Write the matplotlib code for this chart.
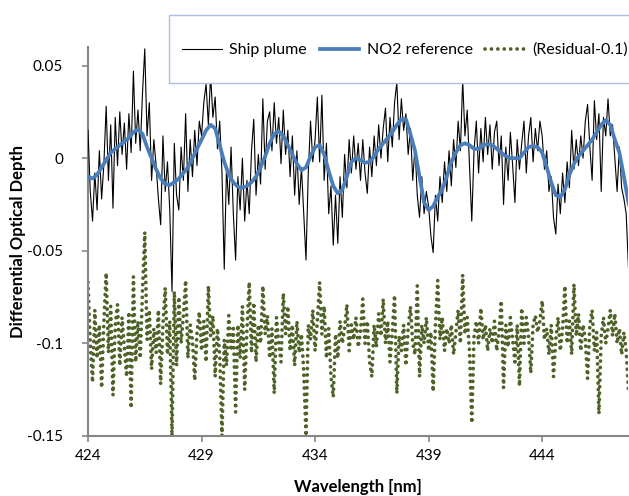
import numpy as np
import matplotlib
matplotlib.use('Agg')
import matplotlib.pyplot as plt
from matplotlib.patches import Rectangle

plt.rcParams['font.family'] = ['Lato', 'DejaVu Sans']
plt.rcParams['axes.unicode_minus'] = False

# Wavelength grids [nm]
wl_fine = np.round(np.arange(424.0, 447.85, 0.1), 2)    # measured spectra
wl_ref = np.round(np.arange(424.0, 448.05, 0.2), 2)     # smooth NO2 cross section

# Ship plume differential optical depth
plume = [
    0.015, -0.018, -0.034, -0.008, -0.028, 0.004, -0.022, -0.003, 0.028, -0.012,
    0.018, -0.027, 0.022, -0.004, 0.025, 0.002, 0.019, -0.006, 0.024, 0.003,
    0.047, 0.008, 0.026, 0.004, 0.035, 0.059, 0.012, 0.030, -0.012, 0.010,
    -0.004, -0.022, -0.036, 0.012, -0.018, -0.002, -0.028, -0.072, 0.008, -0.020,
    -0.028, 0.006, -0.012, 0.024, -0.018, 0.010, -0.010, 0.015, -0.004, 0.020,
    0.012, 0.030, 0.040, 0.018, 0.045, 0.022, 0.033, 0.005, 0.020, -0.008,
    -0.060, -0.005, -0.025, 0.006, -0.030, -0.055, -0.010, -0.028, 0.000, -0.034,
    -0.012, -0.030, 0.004, 0.021, -0.020, 0.002, -0.014, 0.032, -0.006, 0.020,
    0.025, 0.004, 0.030, 0.008, 0.022, -0.003, 0.026, 0.002, 0.015, -0.010,
    0.012, -0.020, 0.004, -0.025, -0.005, -0.030, -0.055, -0.008, 0.020, -0.002,
    0.010, 0.033, -0.002, 0.034, -0.012, 0.008, -0.030, -0.015, -0.047, -0.020,
    -0.046, -0.010, -0.032, 0.002, -0.016, 0.010, -0.008, 0.012, -0.006, 0.008,
    -0.012, 0.010, -0.008, -0.019, 0.006, -0.010, 0.012, -0.004, 0.018, 0.000,
    0.016, 0.027, -0.002, 0.022, 0.006, 0.030, 0.041, 0.010, 0.032, 0.015,
    0.024, 0.002, 0.016, -0.012, 0.006, -0.020, -0.032, -0.010, -0.030, -0.018,
    -0.026, -0.042, -0.051, -0.020, -0.034, -0.010, -0.024, -0.002, -0.018, 0.004,
    -0.015, 0.010, -0.005, 0.020, 0.004, 0.042, 0.012, 0.026, -0.004, -0.034,
    0.004, 0.020, -0.008, 0.016, -0.002, 0.022, 0.002, 0.018, -0.006, 0.014,
    0.020, -0.004, 0.012, -0.025, 0.006, -0.012, 0.014, -0.004, -0.024, 0.010,
    -0.006, 0.008, 0.020, -0.008, 0.012, 0.022, -0.002, 0.016, 0.004, 0.020,
    0.012, -0.006, 0.004, -0.018, -0.010, -0.032, -0.041, -0.014, -0.030, -0.008,
    -0.024, -0.002, -0.016, 0.015, -0.006, 0.010, -0.004, 0.012, 0.000, 0.020,
    0.029, 0.006, -0.012, 0.031, 0.010, 0.024, -0.018, 0.022, 0.012, 0.032,
    0.012, 0.018, 0.000, -0.018, 0.006, -0.016, -0.022, -0.030, -0.059,
]

# NO2 reference fit
no2_ref = [
    -0.010, -0.011, -0.009, -0.005, -0.001, 0.003, 0.005, 0.007, 0.009, 0.011,
    0.014, 0.0156, 0.013, 0.006, 0.000, -0.006, -0.011, -0.014, -0.0145, -0.013,
    -0.011, -0.008, -0.005, 0.000, 0.005, 0.010, 0.015, 0.018, 0.016, 0.007,
    -0.002, -0.009, -0.013, -0.0155, -0.016, -0.015, -0.013, -0.010, -0.005, 0.001,
    0.008, 0.013, 0.0145, 0.012, 0.007, 0.002, -0.003, -0.0065, -0.005, 0.001,
    0.006, 0.007, 0.002, -0.007, -0.015, -0.019, -0.017, -0.010, -0.002, 0.000,
    -0.001, -0.0025, -0.002, 0.001, 0.005, 0.008, 0.011, 0.014, 0.018, 0.021,
    0.021, 0.013, 0.004, -0.010, -0.024, -0.028, -0.026, -0.021, -0.017, -0.010,
    -0.002, 0.003, 0.007, 0.008, 0.007, 0.005, 0.005, 0.007, 0.0075, 0.007,
    0.005, 0.003, 0.001, 0.000, 0.000, 0.000, 0.003, 0.006, 0.0065, 0.006,
    0.003, -0.005, -0.013, -0.020, -0.021, -0.017, -0.009, -0.003, 0.001, 0.004,
    0.007, 0.010, 0.014, 0.018, 0.0205, 0.018, 0.010, 0.003, -0.010, -0.024,
    -0.033,
]

# Fit residual shifted by -0.1
residual = [
    -0.067, -0.100, -0.121, -0.082, -0.108, -0.090, -0.124, -0.088, -0.062, -0.105,
    -0.080, -0.128, -0.090, -0.079, -0.112, -0.086, -0.102, -0.118, -0.083, -0.135,
    -0.064, -0.110, -0.088, -0.108, -0.072, -0.040, -0.098, -0.082, -0.114, -0.092,
    -0.105, -0.082, -0.122, -0.090, -0.070, -0.106, -0.088, -0.150, -0.072, -0.112,
    -0.075, -0.100, -0.085, -0.066, -0.108, -0.090, -0.098, -0.120, -0.094, -0.083,
    -0.104, -0.088, -0.110, -0.069, -0.096, -0.085, -0.118, -0.092, -0.106, -0.150,
    -0.098, -0.112, -0.085, -0.104, -0.092, -0.137, -0.090, -0.108, -0.080, -0.125,
    -0.092, -0.067, -0.105, -0.078, -0.110, -0.090, -0.100, -0.069, -0.095, -0.085,
    -0.108, -0.092, -0.127, -0.086, -0.100, -0.110, -0.073, -0.095, -0.080, -0.104,
    -0.090, -0.112, -0.088, -0.105, -0.095, -0.115, -0.150, -0.090, -0.098, -0.082,
    -0.104, -0.088, -0.067, -0.095, -0.080, -0.108, -0.092, -0.118, -0.129, -0.095,
    -0.108, -0.088, -0.100, -0.092, -0.079, -0.104, -0.090, -0.098, -0.086, -0.102,
    -0.094, -0.076, -0.100, -0.088, -0.110, -0.118, -0.090, -0.102, -0.084, -0.096,
    -0.076, -0.100, -0.088, -0.110, -0.094, -0.074, -0.127, -0.096, -0.104, -0.090,
    -0.112, -0.092, -0.080, -0.100, -0.106, -0.069, -0.118, -0.090, -0.100, -0.086,
    -0.104, -0.094, -0.126, -0.090, -0.066, -0.098, -0.086, -0.104, -0.092, -0.100,
    -0.090, -0.106, -0.094, -0.082, -0.100, -0.063, -0.095, -0.086, -0.104, -0.143,
    -0.096, -0.088, -0.100, -0.081, -0.098, -0.090, -0.104, -0.092, -0.100, -0.088,
    -0.104, -0.094, -0.077, -0.124, -0.090, -0.102, -0.086, -0.098, -0.110, -0.090,
    -0.123, -0.081, -0.100, -0.086, -0.096, -0.116, -0.090, -0.085, -0.094, -0.088,
    -0.077, -0.098, -0.092, -0.106, -0.090, -0.118, -0.098, -0.086, -0.104, -0.092,
    -0.069, -0.100, -0.088, -0.106, -0.068, -0.096, -0.084, -0.104, -0.090, -0.098,
    -0.119, -0.090, -0.082, -0.104, -0.094, -0.138, -0.096, -0.086, -0.100, -0.092,
    -0.082, -0.096, -0.084, -0.100, -0.092, -0.106, -0.094, -0.104, -0.125,
]

x_ticks = [424, 429, 434, 439, 444]
y_ticks = [0.05, 0, -0.05, -0.1, -0.15]
y_tick_labels = ['0.05', '0', '-0.05', '-0.1', '-0.15']

fig = plt.figure(figsize=(6.29, 4.96), dpi=100)
ax = fig.add_axes([88/629, 1 - 436/496, 540/629, 389/496])

ax.plot(wl_fine, residual, color='#4F6228', lw=2.7, ls=(0, (0.01, 1.7)),
        dash_capstyle='round', label='(Residual-0.1)', zorder=2)
ax.plot(wl_fine, plume, color='black', lw=0.8, label='Ship plume', zorder=3)
ax.plot(wl_ref, no2_ref, color='#4A7EBB', lw=2.7, label='NO2 reference', zorder=4)

ax.set_xlim(424, 447.78)
ax.set_ylim(-0.15, 0.06)
ax.set_xticks(x_ticks)
ax.set_xticklabels([str(t) for t in x_ticks])
ax.set_yticks(y_ticks)
ax.set_yticklabels(y_tick_labels)

for s in ['top', 'right']:
    ax.spines[s].set_visible(False)
for s in ['left', 'bottom']:
    ax.spines[s].set_color('#868686')
    ax.spines[s].set_linewidth(1.5)
ax.tick_params(axis='both', colors='#868686', labelcolor='black', labelsize=11,
               length=4, width=1.2)
ax.tick_params(axis='y', pad=14)
ax.tick_params(axis='x', pad=5)

fig.text(18/629, 1 - 241/496, 'Differential Optical Depth', rotation=90,
         ha='center', va='center', fontsize=12, fontweight='bold')
fig.text(358/629, 1 - 487/496, 'Wavelength [nm]', ha='center', va='center',
         fontsize=12, fontweight='bold')

# legend box (white, covers the plot, runs off the right edge)
fig.add_artist(Rectangle((169/629, 1 - 83/496), 480/629, 68/496,
                         transform=fig.transFigure, facecolor='white',
                         edgecolor='#A9C1E0', lw=1, zorder=3))
handles, labels = ax.get_legend_handles_labels()
order = [1, 2, 0]
leg = fig.legend([handles[i] for i in order], [labels[i] for i in order],
                 loc='center left', bbox_to_anchor=(182/629, 1 - 50/496),
                 bbox_transform=fig.transFigure, ncol=3, frameon=False,
                 borderpad=0, borderaxespad=0, fontsize=11.5,
                 handlelength=2.5, handletextpad=0.45, columnspacing=0.8)
leg.set_zorder(5)

plt.savefig('out.png', dpi=100)
